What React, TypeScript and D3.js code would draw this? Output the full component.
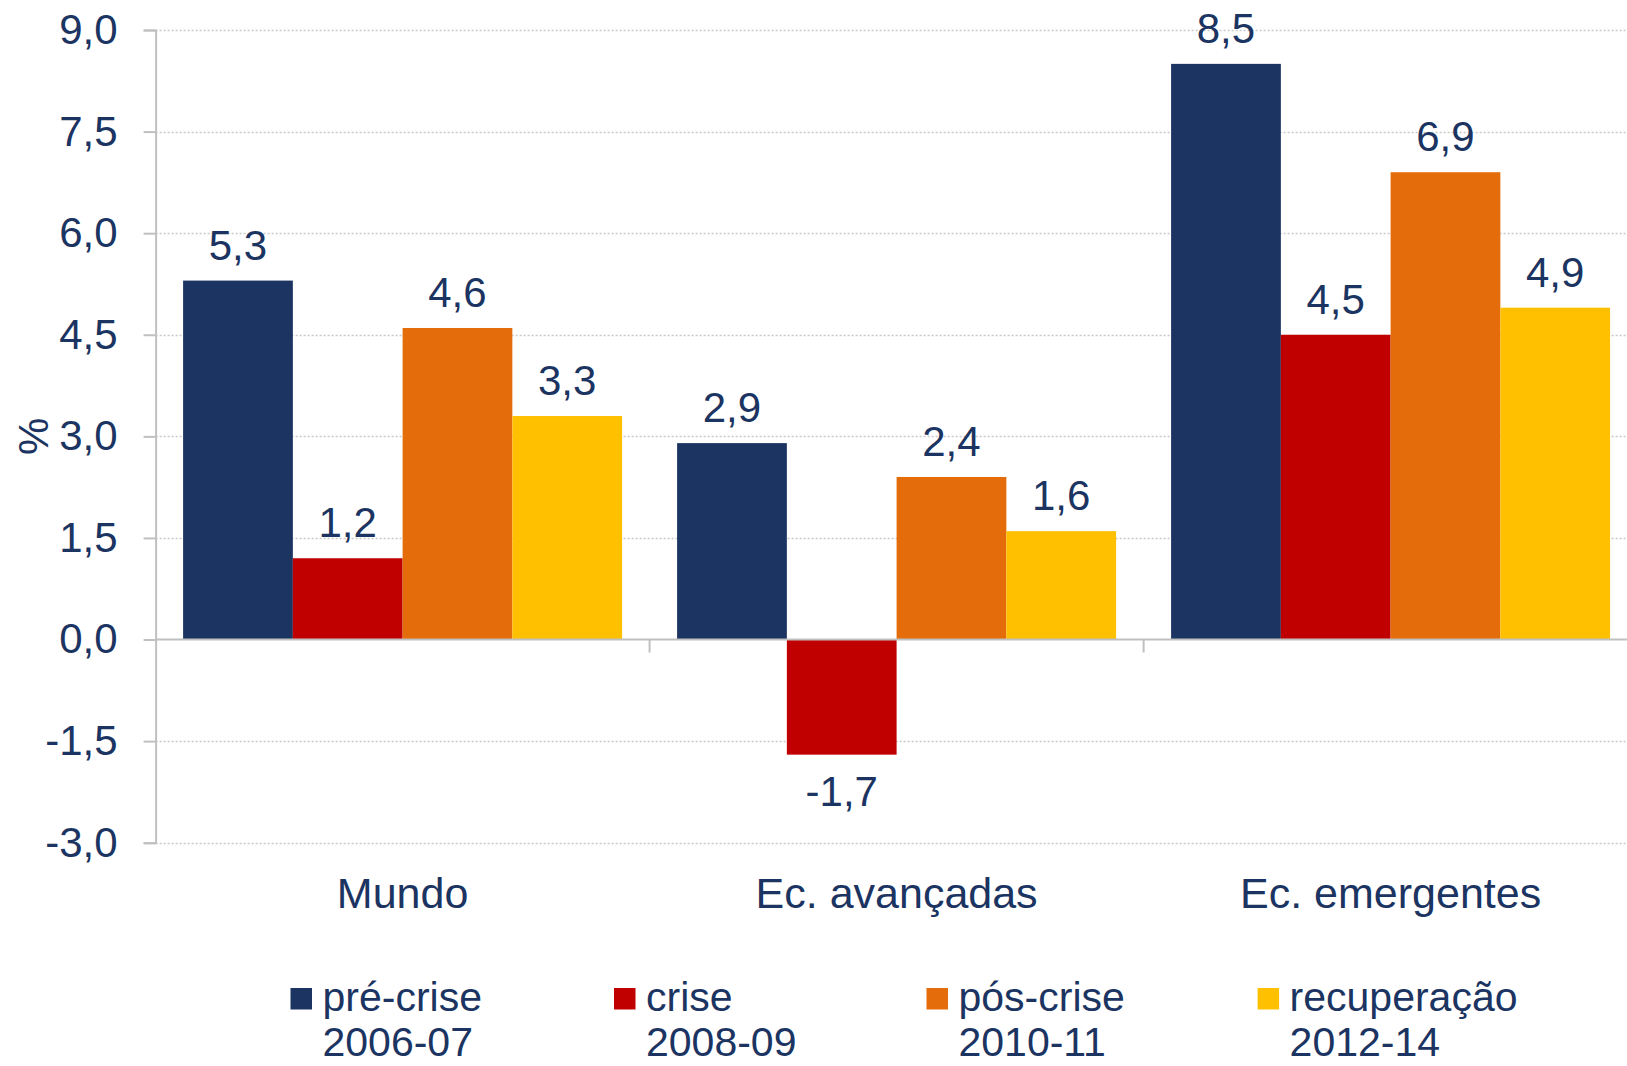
import React, { useEffect, useRef } from "react";
import * as d3 from "d3";

// categories (x axis)
const categories = ["Mundo", "Ec. avançadas", "Ec. emergentes"];

// series (legend: two lines each)
const seriesNames = ["pré-crise", "crise", "pós-crise", "recuperação"];
const seriesPeriods = ["2006-07", "2008-09", "2010-11", "2012-14"];
const seriesColors = ["#1b3461", "#c00000", "#e46c0a", "#ffc000"];

// values per series, in category order
const preCrise = [5.3, 2.9, 8.5];
const crise = [1.2, -1.7, 4.5];
const posCrise = [4.6, 2.4, 6.9];
const recuperacao = [3.3, 1.6, 4.9];

const yTicks = [-3, -1.5, 0, 1.5, 3, 4.5, 6, 7.5, 9];

const W = 1627;
const H = 1066;
const TEXT = "#1b3461";
const FONT = "'Liberation Sans', Arial, sans-serif";

const App = () => {
  const svgRef = useRef<SVGSVGElement>(null);

  useEffect(() => {
    const svg = d3.select(svgRef.current);
    svg.selectAll("*").remove();

    const left = 155.6;
    const catW = 494;

    const x = d3
      .scaleBand<string>()
      .domain(categories)
      .range([left, left + catW * 3])
      .padding(0);

    const xs = d3
      .scaleBand<string>()
      .domain(seriesNames)
      .range([27.5, catW - 27.5])
      .padding(0);

    const y = d3.scaleLinear().domain([-3, 9]).range([842.7, 30]);

    // pt-PT style: comma decimal, plain hyphen for negatives
    const fmt = (v: number) => v.toFixed(1).replace(".", ",");

    const g = svg.append("g");

    // gridlines
    g.selectAll(".grid")
      .data(yTicks.filter((t) => t !== 0))
      .enter()
      .append("line")
      .attr("x1", left)
      .attr("x2", W)
      .attr("y1", (d) => Math.round(y(d)) + 0.5)
      .attr("y2", (d) => Math.round(y(d)) + 0.5)
      .attr("stroke", "#c8c8c8")
      .attr("stroke-width", 1.5)
      .attr("stroke-dasharray", "2,2");

    // y axis
    const yAxis = d3
      .axisLeft(y)
      .tickValues(yTicks)
      .tickSize(12)
      .tickPadding(26)
      .tickFormat((d) => fmt(+d));

    const ya = g.append("g").attr("transform", `translate(${left},0)`).call(yAxis);
    ya.select(".domain").attr("stroke", "#c0c0c0").attr("stroke-width", 2);
    ya.selectAll(".tick line").attr("stroke", "#c0c0c0").attr("stroke-width", 2);
    ya.selectAll(".tick text")
      .attr("fill", TEXT)
      .attr("font-family", FONT)
      .attr("font-size", 42);

    // bars
    const allSeries = [preCrise, crise, posCrise, recuperacao];
    const bars = allSeries.flatMap((vals, si) =>
      vals.map((v, ci) => ({ cat: categories[ci], s: seriesNames[si], si, v }))
    );

    g.selectAll(".bar")
      .data(bars)
      .enter()
      .append("rect")
      .attr("x", (d) => (x(d.cat) as number) + (xs(d.s) as number))
      .attr("width", xs.bandwidth())
      .attr("y", (d) => y(Math.max(0, d.v)))
      .attr("height", (d) => Math.abs(y(d.v) - y(0)))
      .attr("fill", (d) => seriesColors[d.si]);

    // zero line
    g.append("line")
      .attr("x1", left)
      .attr("x2", W)
      .attr("y1", y(0))
      .attr("y2", y(0))
      .attr("stroke", "#c0c0c0")
      .attr("stroke-width", 2);

    // category ticks
    g.selectAll(".ctick")
      .data(categories.slice(1))
      .enter()
      .append("line")
      .attr("x1", (d) => x(d) as number)
      .attr("x2", (d) => x(d) as number)
      .attr("y1", y(0))
      .attr("y2", y(0) + 13)
      .attr("stroke", "#c0c0c0")
      .attr("stroke-width", 2);

    // value labels
    g.selectAll(".val")
      .data(bars)
      .enter()
      .append("text")
      .attr("x", (d) => (x(d.cat) as number) + (xs(d.s) as number) + xs.bandwidth() / 2)
      .attr("y", (d) => (d.v >= 0 ? y(d.v) - 21 : y(d.v) + 51))
      .attr("text-anchor", "middle")
      .attr("fill", TEXT)
      .attr("font-family", FONT)
      .attr("font-size", 42)
      .text((d) => fmt(d.v));

    // category labels
    g.selectAll(".cat")
      .data(categories)
      .enter()
      .append("text")
      .attr("x", (d) => (x(d) as number) + catW / 2)
      .attr("y", 908)
      .attr("text-anchor", "middle")
      .attr("fill", TEXT)
      .attr("font-family", FONT)
      .attr("font-size", 43)
      .text((d) => d);

    // y title
    g.append("text")
      .attr("transform", `translate(48,${(y(9) + y(-3)) / 2}) rotate(-90)`)
      .attr("text-anchor", "middle")
      .attr("fill", TEXT)
      .attr("font-family", FONT)
      .attr("font-size", 42)
      .text("%");

    // legend
    const legX = [290.5, 614, 926.5, 1257.6];
    const leg = g
      .selectAll(".leg")
      .data(seriesNames)
      .enter()
      .append("g")
      .attr("transform", (d, i) => `translate(${legX[i]},0)`);

    leg.append("rect")
      .attr("x", 0)
      .attr("y", 988)
      .attr("width", 21.5)
      .attr("height", 21.5)
      .attr("fill", (d, i) => seriesColors[i]);

    leg.append("text")
      .attr("x", 32)
      .attr("y", 1011)
      .attr("fill", TEXT)
      .attr("font-family", FONT)
      .attr("font-size", 41)
      .text((d) => d);

    leg.append("text")
      .attr("x", 32)
      .attr("y", 1056)
      .attr("fill", TEXT)
      .attr("font-family", FONT)
      .attr("font-size", 41)
      .text((d, i) => seriesPeriods[i]);
  }, []);

  return (
    <svg
      ref={svgRef}
      width={W}
      height={H}
      style={{ position: "absolute", left: 0, top: 0, background: "#fff" }}
    />
  );
};

export default App;
